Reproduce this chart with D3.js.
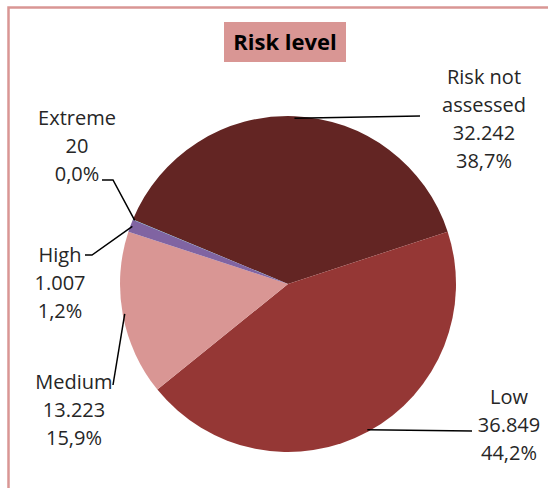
<!DOCTYPE html>
<html>
<head>
<meta charset="utf-8">
<script src="https://cdn.jsdelivr.net/npm/d3@7"></script>
<style>
  body { margin: 0; background: #fff; }
  svg { display: block; }
</style>
</head>
<body>
<div id="chart"></div>
<script>
// data
var categories = ["Risk not assessed", "Low", "Medium", "High", "Extreme"];
var counts = [32242, 36849, 13223, 1007, 20];
var countLabels = ["32.242", "36.849", "13.223", "1.007", "20"];
var pctLabels = ["38,7%", "44,2%", "15,9%", "1,2%", "0,0%"];
var labelLines = [["Risk not", "assessed"], ["Low"], ["Medium"], ["High"], ["Extreme"]];
var colors = ["#632523", "#953735", "#d99694", "#8064a2", "#4bacc6"];

var width = 548, height = 488;
var cx = 288, cy = 284, radius = 168;
var lineH = 28;

// label layout (x centre, y of first baseline) and leader elbows
var labelPos = [
    { x: 484, y: 84, pts: [[420, 116]] },
    { x: 509, y: 404, pts: [[472, 431]] },
    { x: 74, y: 389, pts: [[113, 385]] },
    { x: 60, y: 262, pts: [[92, 255], [85, 255]] },
    { x: 77, y: 125, pts: [[113, 180], [102, 180]] }
];

var svg = d3.select("#chart").append("svg")
    .attr("width", width)
    .attr("height", height);

// chart area border (cut off at right and bottom)
svg.append("path")
    .attr("d", "M8.5," + height + "V7.5H" + width)
    .attr("fill", "none")
    .attr("stroke", "#d99694")
    .attr("stroke-width", 2.5);

// title box
var title = svg.append("g");
title.append("rect")
    .attr("x", 224).attr("y", 22)
    .attr("width", 122).attr("height", 40)
    .attr("fill", "#d99694");
title.append("text")
    .attr("x", 285).attr("y", 50)
    .attr("text-anchor", "middle")
    .attr("font-family", "'Open Sans', sans-serif")
    .attr("font-weight", "bold")
    .attr("font-size", 22)
    .attr("fill", "#000")
    .text("Risk level");

var data = categories.map(function (c, i) {
    return { name: c, value: counts[i], i: i };
});

var startA = -67.4 * Math.PI / 180;
var pie = d3.pie()
    .sort(null)
    .value(function (d) { return d.value; })
    .startAngle(startA)
    .endAngle(startA + 2 * Math.PI);

var arc = d3.arc().innerRadius(0).outerRadius(radius);
var edge = d3.arc().innerRadius(radius - 2).outerRadius(radius - 2);

var arcs = pie(data);
var g = svg.append("g").attr("transform", "translate(" + cx + "," + cy + ")");

g.selectAll(".slice")
    .data(arcs)
    .enter().append("path")
    .attr("class", "slice")
    .attr("d", arc)
    .attr("fill", function (d) { return colors[d.data.i]; });

// leader lines
svg.selectAll(".leader")
    .data(arcs)
    .enter().append("polyline")
    .attr("class", "leader")
    .attr("fill", "none")
    .attr("stroke", "#000")
    .attr("stroke-width", 1.5)
    .attr("points", function (d) {
        var c = edge.centroid(d);
        var p = [[cx + c[0], cy + c[1]]].concat(labelPos[d.data.i].pts);
        return p.map(function (q) { return q.join(","); }).join(" ");
    });

// data labels
arcs.forEach(function (d) {
    var i = d.data.i;
    var lines = labelLines[i].concat([countLabels[i], pctLabels[i]]);
    var t = svg.append("text")
        .attr("text-anchor", "middle")
        .attr("font-family", "'Open Sans', sans-serif")
        .attr("font-size", 20)
        .attr("fill", "#262626");
    lines.forEach(function (s, k) {
        t.append("tspan")
            .attr("x", labelPos[i].x)
            .attr("y", labelPos[i].y + k * lineH)
            .text(s);
    });
});
</script>
</body>
</html>
